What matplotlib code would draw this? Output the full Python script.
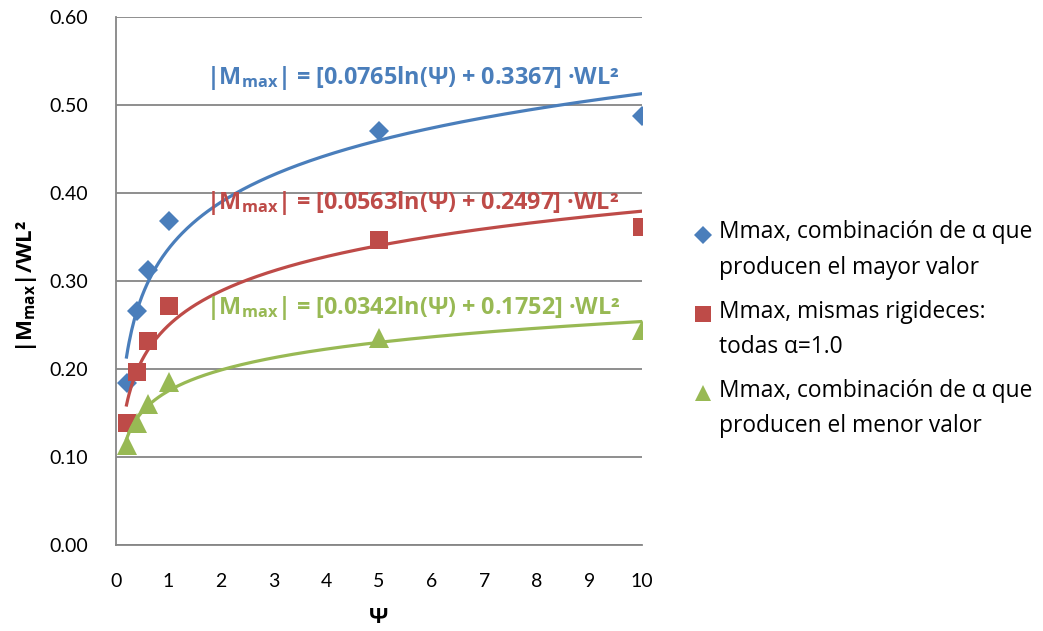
import numpy as np
import matplotlib
matplotlib.use("Agg")
import matplotlib.pyplot as plt
from matplotlib.legend_handler import HandlerLine2D

plt.rcParams['font.family'] = ['Lato', 'DejaVu Sans']
plt.rcParams['mathtext.fontset'] = 'custom'
plt.rcParams['mathtext.rm'] = 'Open Sans'
plt.rcParams['mathtext.bf'] = 'Open Sans:bold'

# Data
psi = [0.2, 0.4, 0.6, 1.0, 5.0, 10.0]
m_mayor = [0.184, 0.266, 0.313, 0.368, 0.470, 0.487]
m_iguales = [0.139, 0.197, 0.232, 0.272, 0.347, 0.361]
m_menor = [0.114, 0.139, 0.160, 0.185, 0.235, 0.244]

# Logarithmic trendline coefficients: y = a*ln(psi) + b
fit_a = [0.0765, 0.0563, 0.0342]
fit_b = [0.3367, 0.2497, 0.1752]

labels = [
    "Mmax, combinación de α que\nproducen el mayor valor",
    "Mmax, mismas rigideces:\ntodas α=1.0",
    "Mmax, combinación de α que\nproducen el menor valor",
]
x_ticks = [0, 1, 2, 3, 4, 5, 6, 7, 8, 9, 10]
y_ticks = [0.0, 0.1, 0.2, 0.3, 0.4, 0.5, 0.6]

colors = ["#4A7EBB", "#BE4B48", "#98B954"]
markers = ["D", "s", "^"]
msizes = [10.5, 13, 14]
eq_y = [0.531, 0.389, 0.269]

text_font = ['Open Sans', 'DejaVu Sans']

fig = plt.figure(figsize=(10.43, 6.31), dpi=100)
ax = fig.add_axes([0.1112, 0.1363, 0.5043, 0.8368])

series = [m_mayor, m_iguales, m_menor]
xs = np.linspace(min(psi), max(psi), 400)
handles = []
for vals, a, b, c, mk, ms, ey in zip(series, fit_a, fit_b, colors, markers, msizes, eq_y):
    h, = ax.plot(psi, vals, linestyle="none", marker=mk, markersize=ms,
                 color=c, markeredgewidth=0, zorder=3)
    handles.append(h)
    ax.plot(xs, a * np.log(xs) + b, color=c, linewidth=2.3, zorder=4)
    ax.text(1.72, ey,
            r"|M$_{\mathbf{max}}$| = [%.4fln(Ψ) + %.4f] ·WL²" % (a, b),
            color=c, fontsize=16.8, fontweight="bold", family=text_font,
            ha="left", va="center", zorder=5)

ax.set_xlim(0, 10)
ax.set_ylim(0, 0.6)
ax.set_xticks(x_ticks)
ax.set_yticks(y_ticks)
ax.set_xticklabels([str(t) for t in x_ticks])
ax.set_yticklabels(["%.2f" % t for t in y_ticks])
ax.tick_params(axis="both", length=0, labelsize=14, colors="black")
ax.tick_params(axis="x", pad=20)
ax.tick_params(axis="y", pad=20)

ax.grid(axis="y", color="#868686", linewidth=1.3, zorder=0)
ax.set_axisbelow(True)
for side in ["top", "right"]:
    ax.spines[side].set_visible(False)
for side in ["left", "bottom"]:
    ax.spines[side].set_color("#868686")
    ax.spines[side].set_linewidth(1.3)

ax.set_xlabel("Ψ", fontsize=16, fontweight="bold", family=text_font)
ax.xaxis.set_label_coords(0.5, -0.117)
ax.set_ylabel(r"|M$_{\mathbf{max}}$|/WL²", fontsize=16, fontweight="bold",
              family=text_font)
ax.yaxis.set_label_coords(-0.146, 0.49)


class TopAlignedHandler(HandlerLine2D):
    """Places the marker level with the first text line of the entry."""
    def create_artists(self, legend, orig_handle, xdescent, ydescent,
                       width, height, fontsize, trans):
        arts = super().create_artists(legend, orig_handle, xdescent, ydescent,
                                      width, height, fontsize, trans)
        for art in arts:
            art.set_ydata(np.asarray(art.get_ydata()) + 0.72 * fontsize)
        return arts


leg = fig.legend(handles, labels, loc="center left",
                 bbox_to_anchor=(0.657, 0.478), frameon=False,
                 prop={'family': text_font, 'size': 16.4},
                 handlelength=0.8, handletextpad=0.28, labelspacing=0.88,
                 borderaxespad=0,
                 handler_map={h: TopAlignedHandler(numpoints=1) for h in handles})
for t in leg.get_texts():
    t.set_linespacing(1.63)
for h in leg.legend_handles:
    h.set_markersize(h.get_markersize() * 0.85)

fig.savefig("out.png", dpi=100)
